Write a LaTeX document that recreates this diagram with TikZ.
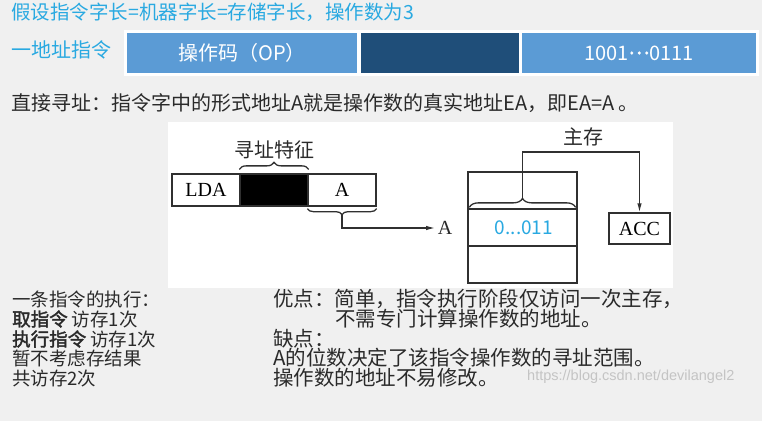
\documentclass[tikz,border=0pt]{standalone}
\usepackage{fontspec}
\setmainfont{Noto Sans CJK SC}
\newfontfamily\cjk{Noto Sans CJK SC}
\newfontfamily\cjkb{Noto Sans CJK SC}[FakeBold=2]
\newfontfamily\tms{Liberation Serif}
\newfontfamily\wmf{Liberation Sans}
\usetikzlibrary{arrows.meta,decorations.pathreplacing}
\definecolor{bg}{HTML}{F0F0F0}
\definecolor{cyanT}{HTML}{29A9E1}
\definecolor{barL}{HTML}{5B9BD5}
\definecolor{barD}{HTML}{1F4E79}
\definecolor{txt}{HTML}{2A2A2A}
\definecolor{ln}{HTML}{303030}
\definecolor{wmc}{HTML}{C4C4C4}
\begin{document}
\begin{tikzpicture}[x=1pt,y=-1pt,
  title/.style={anchor=west,inner sep=0,text=cyanT,font=\cjk\fontsize{19.5}{19.5}\selectfont},
  bodyL/.style={anchor=west,inner sep=0,text=txt,font=\cjk\fontsize{18.5}{18.5}\selectfont},
  bodyR/.style={anchor=west,inner sep=0,text=txt,font=\cjk\fontsize{20.5}{20.5}\selectfont},
  barbox/.style={inner sep=0,minimum height=40pt,text=white,font=\cjk\fontsize{20}{20}\selectfont},
  cell/.style={draw=ln,line width=1.3pt,inner sep=0,minimum height=32pt,minimum width=68pt,font=\tms\fontsize{20}{20}\selectfont},
  mcell/.style={draw=ln,line width=1.3pt,inner sep=0,minimum height=37pt,minimum width=109pt},
  conn/.style={draw=ln,line width=1.3pt},
  arr/.style={conn,-{Latex[length=9pt,width=4.5pt]}},
  brc/.style={draw=ln,line width=1.3pt,decorate},
  lbl/.style={inner sep=0,text=txt,font=\cjk\fontsize{20}{20}\selectfont}
]
\fill[bg] (0,0) rectangle (762,421);
\useasboundingbox (0,0) rectangle (762,421);
% white panels
\fill[white] (124,30) rectangle (759,76);
\fill[white] (168,122) rectangle (673,288);

% title
\node[title] (t1) at (11,12) {假设指令字长=机器字长=存储字长，操作数为3};
\node[title,font=\cjk\fontsize{20}{20}\selectfont] (t2) at (11,50) {一地址指令};

% bars
\node[barbox,fill=barL,minimum width=230pt] (op) at (242,53) {操作码（OP）};
\node[barbox,fill=barD,minimum width=158pt] (md) at (440,53) {};
\node[barbox,fill=barL,minimum width=234pt] (ad) at (639,53) {1001\raisebox{0.3em}{{\cjkb …}}0111};

% direct addressing line
\node[bodyR,font=\cjk\fontsize{20}{20}\selectfont] (d1) at (11,103) {直接寻址：指令字中的形式地址A就是操作数的真实地址EA，即EA=A 。};

% instruction
\node[cell] (lda) at (206,190) {LDA};
\node[cell,fill=black] (blk) at (274,190) {};
\node[cell] (fa) at (342,190) {A};
\draw[brc,decoration={brace,amplitude=7pt}] ([yshift=4pt]blk.north west) -- ([yshift=4pt]blk.north east);
\node[lbl] (xz) at (274,150) {寻址特征};
\draw[brc,decoration={brace,amplitude=6pt}] ([yshift=-2pt]fa.south east) -- ([yshift=-2pt]fa.south west);
\coordinate (bt) at ([yshift=-8pt]fa.south);
\node[inner sep=2.5pt,text=txt,font=\tms\fontsize{20}{20}\selectfont] (alab) at (445,228) {A};
\draw[arr] (bt) |- (alab.west);

% memory
\node[mcell] (m1) at (522.5,190.5) {};
\node[mcell] (m2) at (522.5,227.5) {};
\node[mcell] (m3) at (522.5,264.5) {};
\node[text=cyanT,font=\cjk\fontsize{19}{19}\selectfont,inner sep=0] (val) at (524,228) {0...011};
\draw[brc,decoration={brace,amplitude=9pt}] ([xshift=2pt,yshift=1pt]m2.north west) -- ([xshift=-2pt,yshift=1pt]m2.north east);
\coordinate (mt) at ([yshift=10pt]m2.north);
\node[lbl] (zc) at (583,137) {主存};
\node[draw=ln,line width=1.3pt,inner sep=0,minimum width=61pt,minimum height=31pt,font=\tms\fontsize{20}{20}\selectfont] (acc) at (639.5,228.5) {ACC};
\coordinate (topc) at (600,152);
\draw[arr] (mt) |- (topc) -| (acc.north);

% bottom text left
\node[bodyL] (l1) at (12,299) {一条指令的执行：};
\node[bodyL] (l2) at (12,319) {{\cjkb 取指令} 访存1次};
\node[bodyL] (l3) at (12,339) {{\cjkb 执行指令} 访存1次};
\node[bodyL] (l4) at (12,358) {暂不考虑存结果};
\node[bodyL] (l5) at (12,378) {共访存2次};

% bottom text right
\node[bodyR] (r1) at (273,299) {优点：简单，指令执行阶段仅访问一次主存，};
\node[bodyR] (r2) at (335,319) {不需专门计算操作数的地址。};
\node[bodyR] (r3) at (273,339) {缺点：};
\node[bodyR] (r4) at (273,358) {A的位数决定了该指令操作数的寻址范围。};
\node[bodyR] (r5) at (273,378) {操作数的地址不易修改。};

% watermark
\node[anchor=west,inner sep=0,text=wmc,font=\wmf\fontsize{14.5}{14.5}\selectfont] (wm) at (527,377) {https://blog.csdn.net/devilangel2};
\end{tikzpicture}
\end{document}
